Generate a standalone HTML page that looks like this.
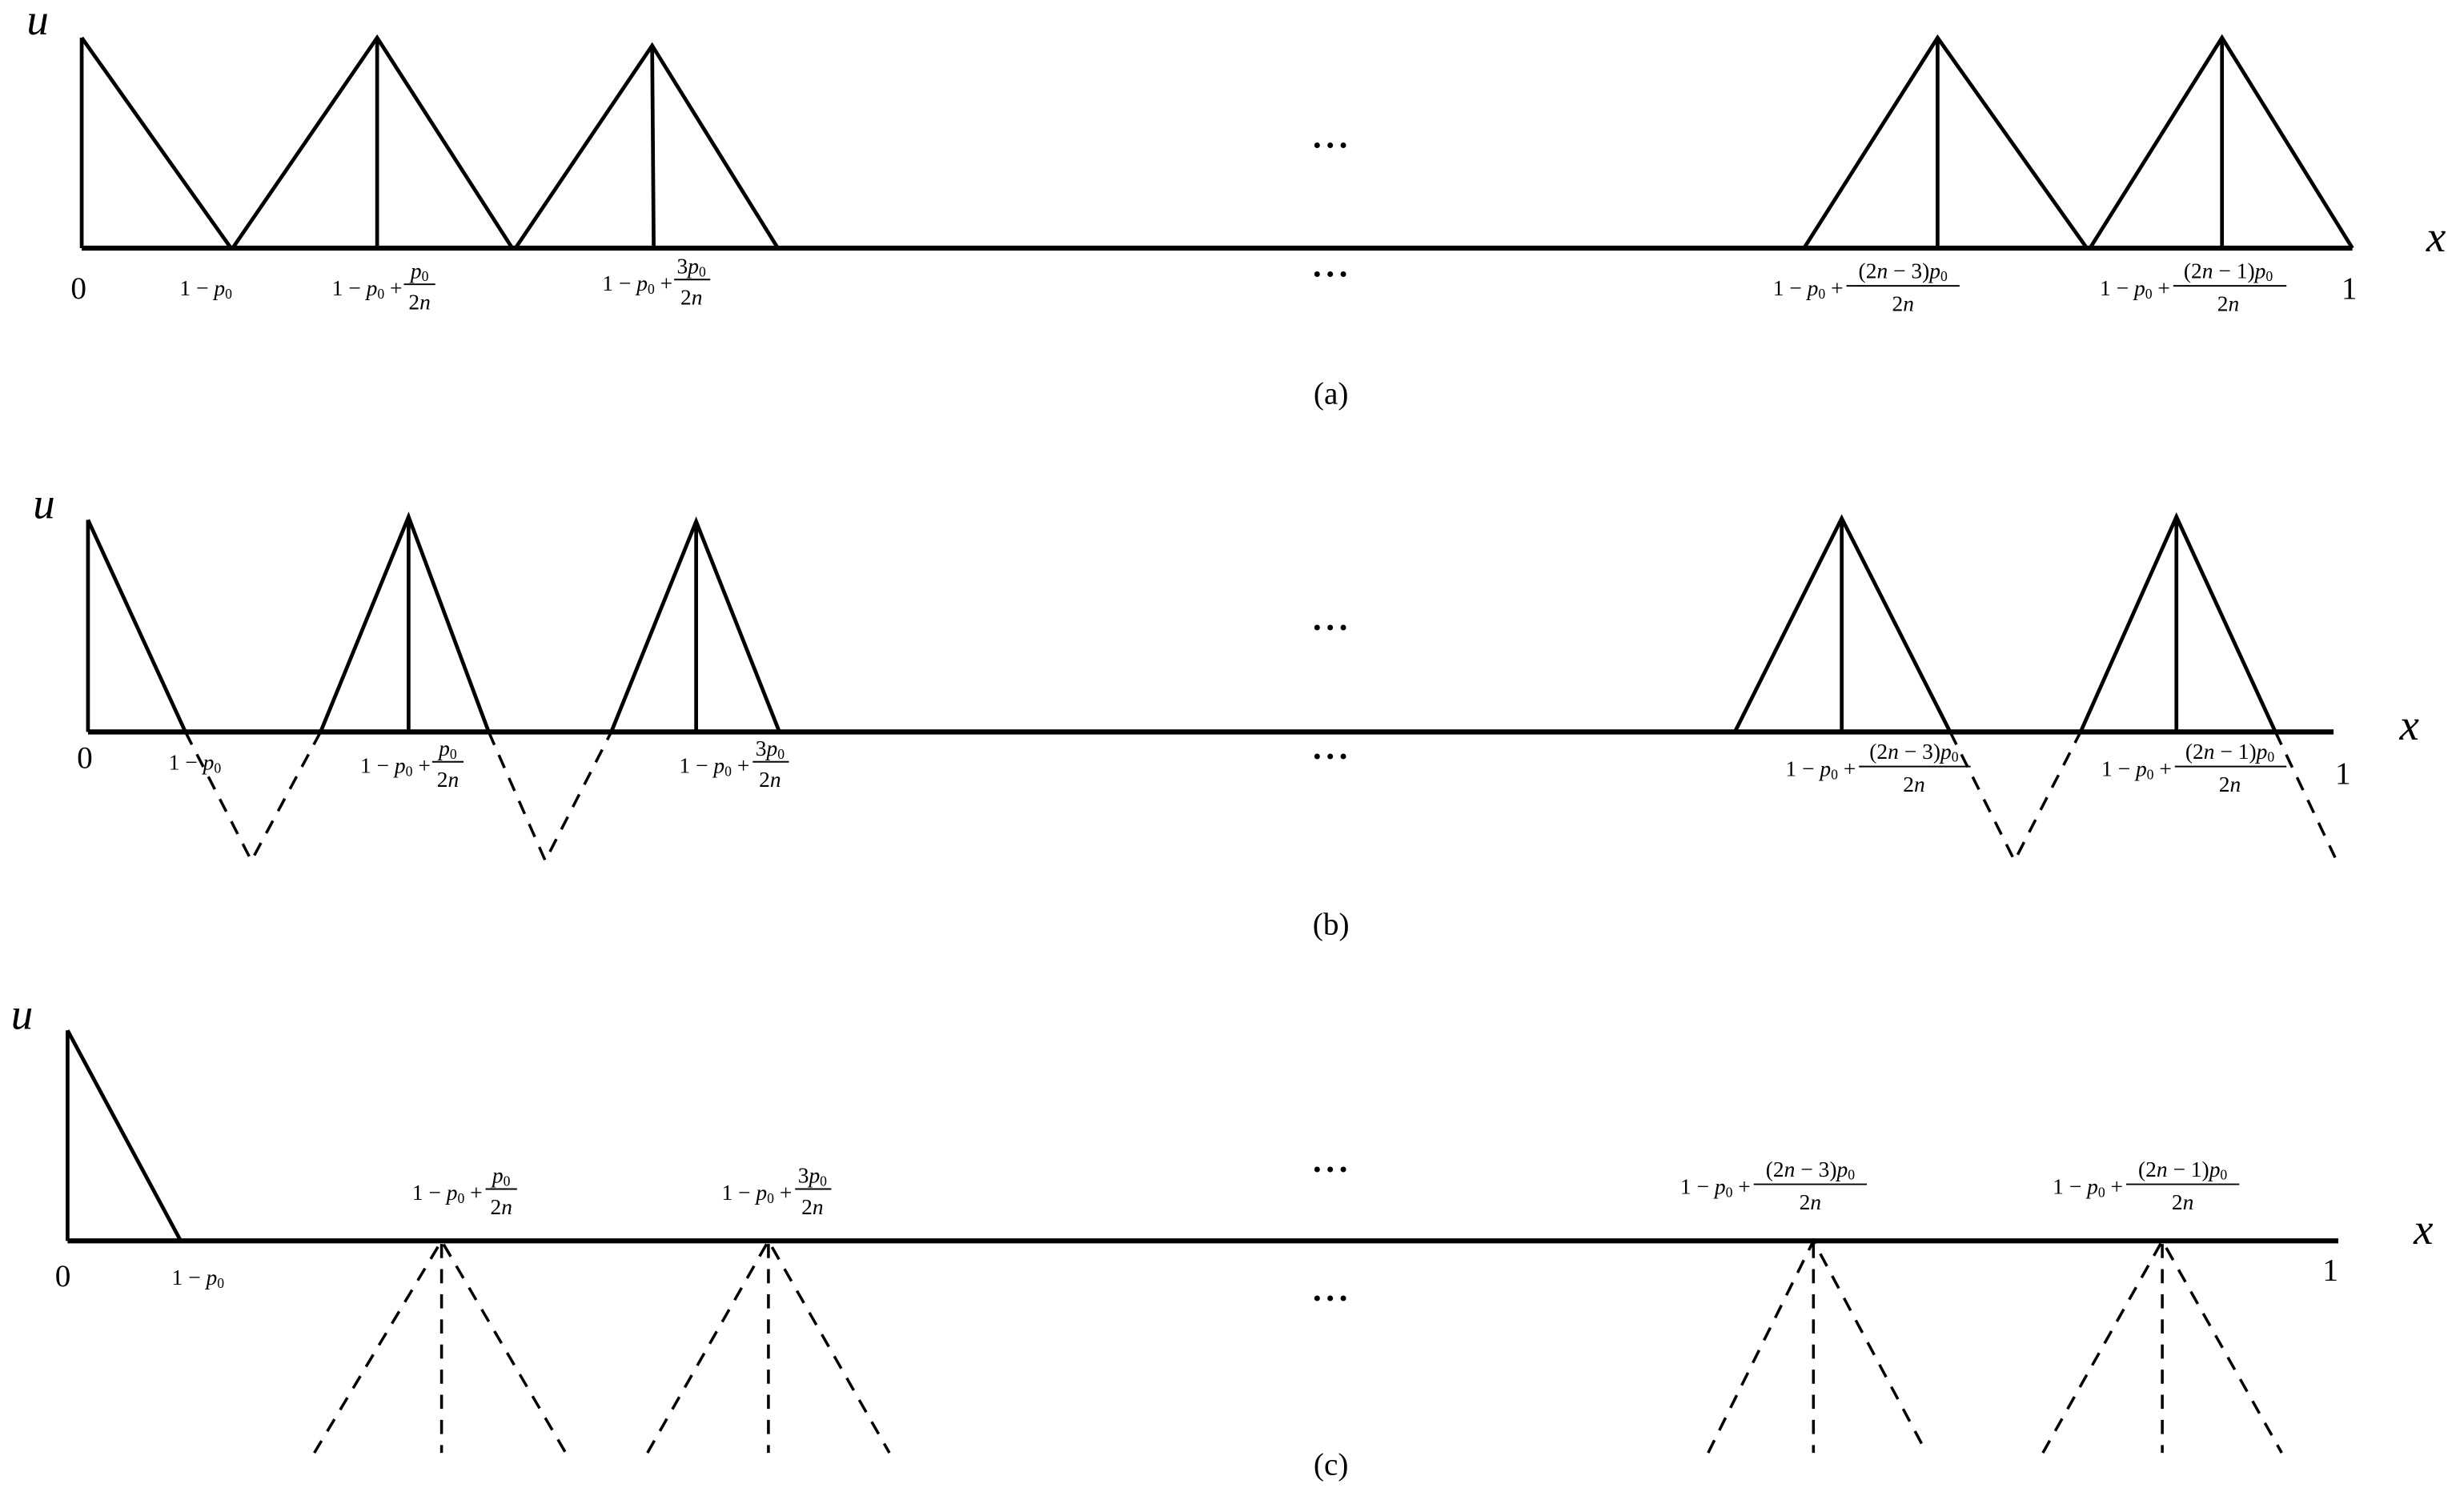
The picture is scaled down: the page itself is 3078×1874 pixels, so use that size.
<!DOCTYPE html>
<html><head><meta charset="utf-8"><style>
html,body{margin:0;padding:0;background:#fff;}
svg{display:block;}
text{font-family:"Liberation Serif",serif;fill:#000;}
.s{font-size:14px;}
.m{font-size:28px;font-style:italic;}
.n{font-size:20px;}
.c{font-size:20px;}
.d{font-size:22px;font-weight:bold;letter-spacing:1px;}
</style></head><body>
<svg width="3078" height="1874" viewBox="0 0 1568 955" preserveAspectRatio="none" xmlns="http://www.w3.org/2000/svg">
<g stroke="#000" stroke-width="2.4" fill="none" stroke-linejoin="miter">
<line x1="52" y1="158" x2="1497" y2="158" stroke-width="3.2"/>
<line x1="52" y1="24" x2="52" y2="158"/>
<polyline points="52,24 147,158"/>
<polyline points="148,158 240,24 326,158"/><line x1="240" y1="24" x2="240" y2="158"/>
<polyline points="328,158 415,29 495,158"/><line x1="415" y1="29" x2="416" y2="158"/>
<polyline points="1148,158 1233,24 1328,158"/><line x1="1233" y1="24" x2="1233" y2="158"/>
<polyline points="1330,158 1414,24 1497,158"/><line x1="1414" y1="24" x2="1414" y2="158"/>
<line x1="56" y1="466" x2="1485" y2="466" stroke-width="3.2"/>
<line x1="56" y1="331" x2="56" y2="466"/>
<polyline points="56,331 118,466"/>
<polyline points="204,466 260,329 311,466"/><line x1="260" y1="329" x2="260" y2="466"/>
<polyline points="389,466 443,332 496,466"/><line x1="443" y1="332" x2="443" y2="466"/>
<polyline points="1104,466 1172,330 1241,466"/><line x1="1172" y1="330" x2="1172" y2="466"/>
<polyline points="1324,466 1385,329 1448,466"/><line x1="1385" y1="329" x2="1385" y2="466"/>
<g stroke-dasharray="9,7" stroke-width="1.8">
<polyline points="118,466 160,548 204,466"/>
<polyline points="311,466 347,548 389,466"/>
<polyline points="1241,466 1282,548 1324,466"/>
<polyline points="1448,466 1486,546"/>
</g>
<line x1="43" y1="790" x2="1488" y2="790" stroke-width="3.2"/>
<line x1="43" y1="656" x2="43" y2="790"/>
<polyline points="43,656 115,790"/>
<g stroke-dasharray="9,7" stroke-width="1.8">
<polyline points="200,925 281,790 360,925"/><line x1="281" y1="792" x2="281" y2="925"/>
<polyline points="412,925 489,790 566,925"/><line x1="489" y1="792" x2="489" y2="925"/>
<polyline points="1087,925 1154,790 1226,925"/><line x1="1154" y1="792" x2="1154" y2="925"/>
<polyline points="1300,925 1376,790 1452,925"/><line x1="1376" y1="792" x2="1376" y2="925"/>
</g>
</g>

<text class="m" x="17" y="22">u</text>
<text class="m" x="1544" y="160">x</text>
<text class="m" x="21" y="330">u</text>
<text class="m" x="1527" y="471">x</text>
<text class="m" x="7" y="655">u</text>
<text class="m" x="1536" y="792">x</text>
<text class="n" x="45" y="190">0</text>
<text class="n" x="1490" y="190">1</text>
<text class="n" x="49" y="489">0</text>
<text class="n" x="1486" y="499">1</text>
<text class="n" x="35" y="819">0</text>
<text class="n" x="1478" y="815">1</text>

<g class="d" text-anchor="middle">
<text x="847" y="100">···</text><text x="847" y="182">···</text>
<text x="847" y="407">···</text><text x="847" y="489">···</text>
<text x="847" y="752">···</text><text x="847" y="834">···</text>
</g>

<g class="c" text-anchor="middle">
<text x="847" y="257">(a)</text>
<text x="847" y="595">(b)</text>
<text x="847" y="939">(c)</text>
</g>

<g class="s" text-anchor="middle">
<text x="131" y="188">1 − <tspan font-style="italic">p</tspan><tspan font-size="9" dy="2">0</tspan></text>
<text x="124" y="490">1 − <tspan font-style="italic">p</tspan><tspan font-size="9" dy="2">0</tspan></text>
<text x="126" y="818">1 − <tspan font-style="italic">p</tspan><tspan font-size="9" dy="2">0</tspan></text>
</g>

<g class="s">
<text x="256" y="188" text-anchor="end">1 − <tspan font-style="italic">p</tspan><tspan font-size="9" dy="2">0</tspan><tspan dy="-2"> +</tspan></text>
<text x="267" y="177" text-anchor="middle"><tspan font-style="italic">p</tspan><tspan font-size="9" dy="2">0</tspan></text>
<line x1="257" y1="181" x2="277" y2="181" stroke="#000" stroke-width="1"/>
<text x="267" y="197" text-anchor="middle">2<tspan font-style="italic">n</tspan></text>

<text x="428" y="185" text-anchor="end">1 − <tspan font-style="italic">p</tspan><tspan font-size="9" dy="2">0</tspan><tspan dy="-2"> +</tspan></text>
<text x="440" y="174" text-anchor="middle">3<tspan font-style="italic">p</tspan><tspan font-size="9" dy="2">0</tspan></text>
<line x1="429" y1="178" x2="452" y2="178" stroke="#000" stroke-width="1"/>
<text x="440" y="194" text-anchor="middle">2<tspan font-style="italic">n</tspan></text>

<text x="1173" y="188" text-anchor="end">1 − <tspan font-style="italic">p</tspan><tspan font-size="9" dy="2">0</tspan><tspan dy="-2"> +</tspan></text>
<text x="1211" y="177" text-anchor="middle">(2<tspan font-style="italic">n</tspan> − 3)<tspan font-style="italic">p</tspan><tspan font-size="9" dy="2">0</tspan></text>
<line x1="1175" y1="182" x2="1247" y2="182" stroke="#000" stroke-width="1"/>
<text x="1211" y="198" text-anchor="middle">2<tspan font-style="italic">n</tspan></text>

<text x="1381" y="188" text-anchor="end">1 − <tspan font-style="italic">p</tspan><tspan font-size="9" dy="2">0</tspan><tspan dy="-2"> +</tspan></text>
<text x="1418" y="177" text-anchor="middle">(2<tspan font-style="italic">n</tspan> − 1)<tspan font-style="italic">p</tspan><tspan font-size="9" dy="2">0</tspan></text>
<line x1="1383" y1="182" x2="1455" y2="182" stroke="#000" stroke-width="1"/>
<text x="1418" y="198" text-anchor="middle">2<tspan font-style="italic">n</tspan></text>

<text x="274" y="492" text-anchor="end">1 − <tspan font-style="italic">p</tspan><tspan font-size="9" dy="2">0</tspan><tspan dy="-2"> +</tspan></text>
<text x="285" y="481" text-anchor="middle"><tspan font-style="italic">p</tspan><tspan font-size="9" dy="2">0</tspan></text>
<line x1="275" y1="485" x2="295" y2="485" stroke="#000" stroke-width="1"/>
<text x="285" y="501" text-anchor="middle">2<tspan font-style="italic">n</tspan></text>

<text x="477" y="492" text-anchor="end">1 − <tspan font-style="italic">p</tspan><tspan font-size="9" dy="2">0</tspan><tspan dy="-2"> +</tspan></text>
<text x="490" y="481" text-anchor="middle">3<tspan font-style="italic">p</tspan><tspan font-size="9" dy="2">0</tspan></text>
<line x1="479" y1="485" x2="502" y2="485" stroke="#000" stroke-width="1"/>
<text x="490" y="501" text-anchor="middle">2<tspan font-style="italic">n</tspan></text>

<text x="1181" y="494" text-anchor="end">1 − <tspan font-style="italic">p</tspan><tspan font-size="9" dy="2">0</tspan><tspan dy="-2"> +</tspan></text>
<text x="1218" y="483" text-anchor="middle">(2<tspan font-style="italic">n</tspan> − 3)<tspan font-style="italic">p</tspan><tspan font-size="9" dy="2">0</tspan></text>
<line x1="1183" y1="488" x2="1254" y2="488" stroke="#000" stroke-width="1"/>
<text x="1218" y="504" text-anchor="middle">2<tspan font-style="italic">n</tspan></text>

<text x="1382" y="494" text-anchor="end">1 − <tspan font-style="italic">p</tspan><tspan font-size="9" dy="2">0</tspan><tspan dy="-2"> +</tspan></text>
<text x="1419" y="483" text-anchor="middle">(2<tspan font-style="italic">n</tspan> − 1)<tspan font-style="italic">p</tspan><tspan font-size="9" dy="2">0</tspan></text>
<line x1="1384" y1="488" x2="1455" y2="488" stroke="#000" stroke-width="1"/>
<text x="1419" y="504" text-anchor="middle">2<tspan font-style="italic">n</tspan></text>

<text x="307" y="764" text-anchor="end">1 − <tspan font-style="italic">p</tspan><tspan font-size="9" dy="2">0</tspan><tspan dy="-2"> +</tspan></text>
<text x="319" y="753" text-anchor="middle"><tspan font-style="italic">p</tspan><tspan font-size="9" dy="2">0</tspan></text>
<line x1="309" y1="757" x2="329" y2="757" stroke="#000" stroke-width="1"/>
<text x="319" y="773" text-anchor="middle">2<tspan font-style="italic">n</tspan></text>

<text x="504" y="764" text-anchor="end">1 − <tspan font-style="italic">p</tspan><tspan font-size="9" dy="2">0</tspan><tspan dy="-2"> +</tspan></text>
<text x="517" y="753" text-anchor="middle">3<tspan font-style="italic">p</tspan><tspan font-size="9" dy="2">0</tspan></text>
<line x1="506" y1="757" x2="529" y2="757" stroke="#000" stroke-width="1"/>
<text x="517" y="773" text-anchor="middle">2<tspan font-style="italic">n</tspan></text>

<text x="1114" y="760" text-anchor="end">1 − <tspan font-style="italic">p</tspan><tspan font-size="9" dy="2">0</tspan><tspan dy="-2"> +</tspan></text>
<text x="1152" y="749" text-anchor="middle">(2<tspan font-style="italic">n</tspan> − 3)<tspan font-style="italic">p</tspan><tspan font-size="9" dy="2">0</tspan></text>
<line x1="1116" y1="754" x2="1188" y2="754" stroke="#000" stroke-width="1"/>
<text x="1152" y="770" text-anchor="middle">2<tspan font-style="italic">n</tspan></text>

<text x="1351" y="760" text-anchor="end">1 − <tspan font-style="italic">p</tspan><tspan font-size="9" dy="2">0</tspan><tspan dy="-2"> +</tspan></text>
<text x="1389" y="749" text-anchor="middle">(2<tspan font-style="italic">n</tspan> − 1)<tspan font-style="italic">p</tspan><tspan font-size="9" dy="2">0</tspan></text>
<line x1="1353" y1="754" x2="1425" y2="754" stroke="#000" stroke-width="1"/>
<text x="1389" y="770" text-anchor="middle">2<tspan font-style="italic">n</tspan></text>
</g>
</svg>
</body></html>
